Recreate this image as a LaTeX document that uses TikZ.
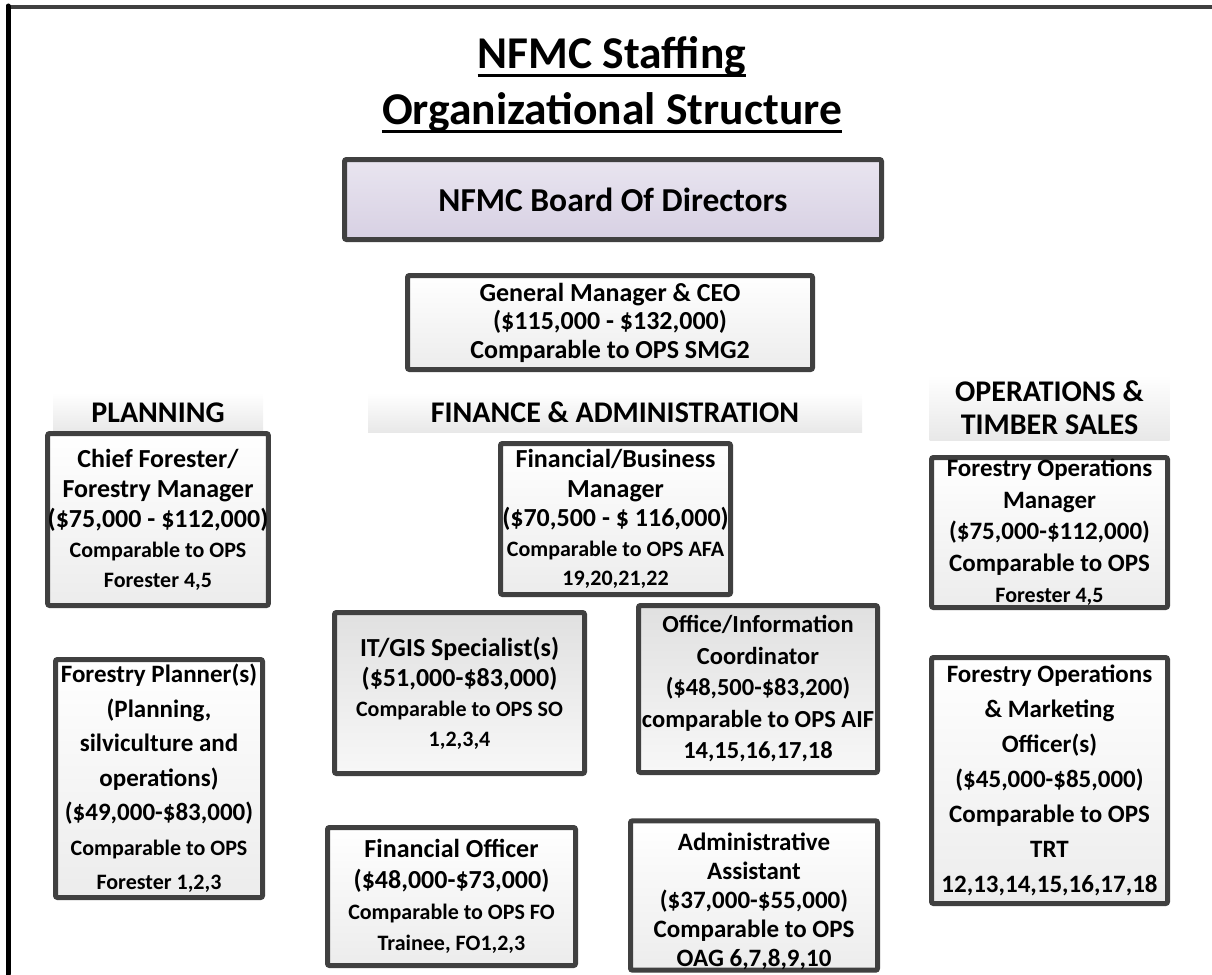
\documentclass[tikz,border=0pt]{standalone}
\usepackage{fontspec}
\setmainfont{Carlito}
\usetikzlibrary{shadows}
\definecolor{boxline}{HTML}{404040}
\definecolor{boxgray}{HTML}{ECECEC}
\definecolor{boardtop}{HTML}{E9E5F0}
\definecolor{boardbot}{HTML}{D7D0E3}
\definecolor{hdrgray}{HTML}{E8E8E8}
\newcommand\cmpline[1]{{\fontsize{22}{22}\selectfont #1}}
\tikzset{
    staffbox/.style={draw=boxline, line width=5pt, rounded corners=2pt,
        top color=white, bottom color=boxgray, align=center, inner sep=0pt,
        drop shadow={shadow xshift=2pt, shadow yshift=-2pt, fill=black!30, opacity=0.45}},
    staffbox gray/.style={staffbox, top color=boxgray!95!black, bottom color=white!97!black},
    boxtext/.style 2 args={font=\bfseries\fontsize{#1}{#2}\selectfont},
    unithdr/.style={top color=white, bottom color=hdrgray, align=center, inner sep=0pt,
        font=\bfseries\fontsize{30}{33}\selectfont},
    titletext/.style={font=\bfseries\fontsize{45.5}{50}\selectfont, anchor=base, inner sep=0pt},
}

\begin{document}
\begin{tikzpicture}[x=1pt, y=-1pt]
    \useasboundingbox (0,0) rectangle (1212,974);
    \newcommand\colP{158}
    \newcommand\colO{1049.5}

    % frame
    \draw[line width=4pt, color=boxline] (6,7) -- (1212,7);
    \draw[line width=5pt, line cap=round] (8,6) -- (8,974);

    % title
    \node[titletext] (title1) at (612, 68){NFMC Staffing};
    \node[titletext] (title2) at (612, 124){Organizational Structure};
    \draw[line width=3pt] ([yshift=-7pt]title1.base west) -- ([yshift=-7pt]title1.base east);
    \draw[line width=3pt] ([yshift=-7pt]title2.base west) -- ([yshift=-7pt]title2.base east);

    % board and ceo
    \node[staffbox, top color=boardtop, bottom color=boardbot, minimum width=537pt, minimum height=80pt,
        font=\bfseries\fontsize{33.5}{38}\selectfont] (board) at (613, 199.5){NFMC Board Of Directors};
    \node[staffbox, boxtext={26}{28.5}, minimum width=405pt, minimum height=94pt] (gm) at (610, 322.5){General Manager \& CEO\\(\$115,000 - \$132,000)\\Comparable to OPS SMG2};

    % unit headers
    \node[unithdr, minimum width=210pt, minimum height=39pt] (hdrPlan) at (\colP, 412.5){PLANNING};
    \node[unithdr, minimum width=494pt, minimum height=39pt] (hdrFin) at (615, 412.5){FINANCE \& ADMINISTRATION};
    \node[unithdr, minimum width=240pt, minimum height=65pt] (hdrOps) at (\colO, 407.5){OPERATIONS \&\\TIMBER SALES};

    % planning
    \node[staffbox, boxtext={26}{30}, minimum width=205pt, minimum height=172pt] (chief) at (\colP, 519.5){Chief Forester/\\Forestry Manager\\(\$75,000 - \$112,000)\\\cmpline{Comparable to OPS}\\\cmpline{Forester 4,5}};
    \node[staffbox, boxtext={25}{34.5}, minimum width=207pt, minimum height=238pt] (planner) at (159, 778.5){Forestry Planner(s)\\(Planning,\\silviculture and\\operations)\\(\$49,000-\$83,000)\\\cmpline{Comparable to OPS}\\\cmpline{Forester 1,2,3}};

    % finance and administration
    \node[staffbox, boxtext={26}{29.5}, minimum width=230pt, minimum height=151pt] (finbus) at (615.5, 519){Financial/Business\\Manager\\(\$70,500 - \$ 116,000)\\\cmpline{Comparable to OPS AFA}\\\cmpline{19,20,21,22}};
    \node[staffbox gray, boxtext={26}{30}, minimum width=250pt, minimum height=161pt] (itgis) at (459.5, 693){IT/GIS Specialist(s)\\(\$51,000-\$83,000)\\\cmpline{Comparable to OPS SO}\\\cmpline{1,2,3,4}};
    \node[staffbox gray, boxtext={24.5}{31.5}, minimum width=239pt, minimum height=167pt] (office) at (758, 689){Office/Information\\Coordinator\\(\$48,500-\$83,200)\\comparable to OPS AIF\\14,15,16,17,18};
    \node[staffbox, boxtext={26}{31}, minimum width=248pt, minimum height=138pt] (finoff) at (451.5, 896.5){Financial Officer\\(\$48,000-\$73,000)\\\cmpline{Comparable to OPS FO}\\\cmpline{Trainee, FO1,2,3}};
    \node[staffbox, boxtext={25}{29}, minimum width=247pt, minimum height=140pt] (admin) at (754, 895.5){\rule{0pt}{30pt}Administrative\\Assistant\\(\$37,000-\$55,000)\\Comparable to OPS\\OAG 6,7,8,9,10};

    % operations and timber sales
    \node[staffbox, boxtext={25}{31.5}, minimum width=236pt, minimum height=150pt] (opsmgr) at (\colO, 532.5){Forestry Operations\\Manager\\(\$75,000-\$112,000)\\Comparable to OPS\\\cmpline{Forester 4,5}};
    \node[staffbox, boxtext={25}{35}, minimum width=236pt, minimum height=246pt] (mkt) at (\colO, 780.5){Forestry Operations\\\& Marketing\\Officer(s)\\(\$45,000-\$85,000)\\Comparable to OPS\\TRT\\12,13,14,15,16,17,18};
\end{tikzpicture}
\end{document}
